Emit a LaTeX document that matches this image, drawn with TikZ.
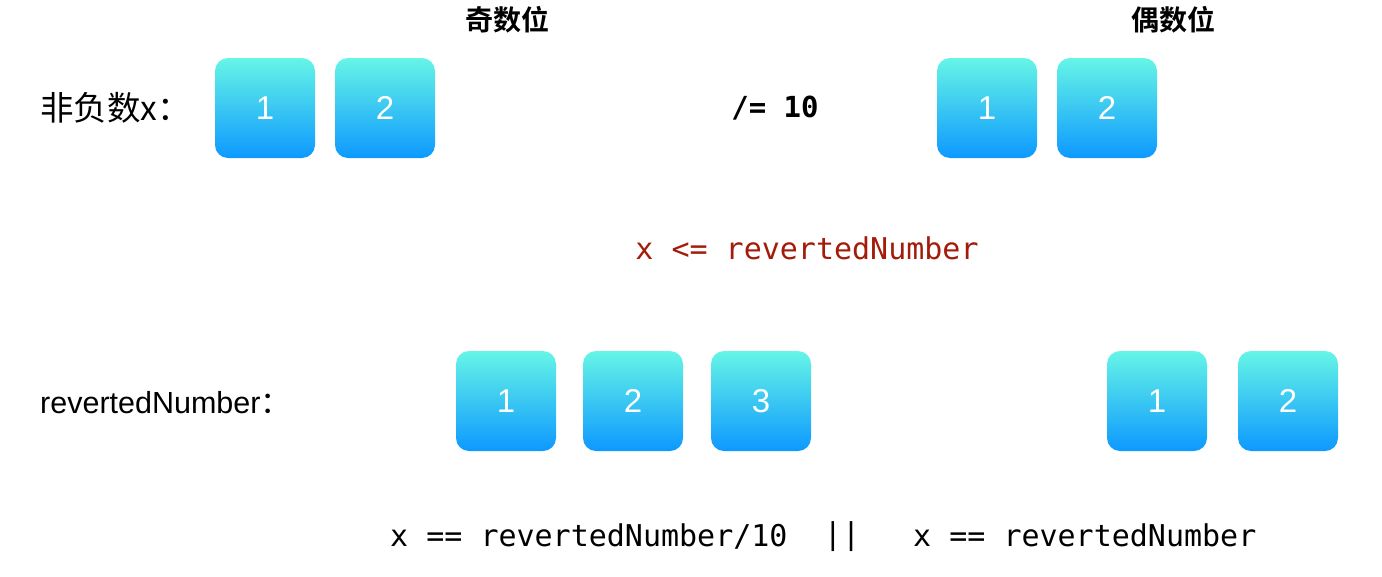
\documentclass[tikz,border=0pt]{standalone}
\usepackage{fontspec}
\setmainfont{Liberation Sans}
\newfontfamily\cjk{Noto Sans CJK SC}
\newfontfamily\cjkb{Noto Sans CJK SC Bold}
\newfontfamily\mono{DejaVu Sans Mono}
\definecolor{boxtop}{RGB}{102,245,230}
\definecolor{boxbot}{RGB}{13,153,255}
\definecolor{codered}{RGB}{163,28,10}
\tikzset{
  digitbox/.style={rounded corners=13pt, top color=boxtop, bottom color=boxbot,
    minimum width=100pt, minimum height=100pt, inner sep=0pt, text=white,
    font=\fontsize{33}{36}\selectfont},
  headtxt/.style={font=\cjkb\fontsize{28}{32}\selectfont, inner sep=0pt},
  labeltxt/.style={anchor=mid west, inner sep=0pt},
  codetxt/.style={font=\mono\fontsize{30}{34}\selectfont, inner sep=0pt}
}
\begin{document}
\begin{tikzpicture}[x=1pt,y=-1pt]
\useasboundingbox (0,0) rectangle (1382,576);
% headings
\node[headtxt] (odd) at (507,20) {奇数位};
\node[headtxt] (even) at (1173,20) {偶数位};
% row 1
\node[labeltxt, font=\cjk\fontsize{33.5}{36}\selectfont] (xlab) at (40,118) {非负数x：};
\node[digitbox] (a1) at (265,108) {1};
\node[digitbox] (a2) at (385,108) {2};
\node[codetxt, font=\mono\bfseries\fontsize{29}{34}\selectfont] (div) at (775,108) {/= 10};
\node[digitbox] (b1) at (987,108) {1};
\node[digitbox] (b2) at (1107,108) {2};
% condition
\node[codetxt, text=codered] (cond) at (807,248) {x <= revertedNumber};
% row 2
\node[labeltxt, font=\fontsize{30.5}{34}\selectfont] (rlab) at (40,411) {revertedNumber\cjk ：};
\node[digitbox] (c1) at (506,401) {1};
\node[digitbox] (c2) at (633,401) {2};
\node[digitbox] (c3) at (761,401) {3};
\node[digitbox] (d1) at (1157,401) {1};
\node[digitbox] (d2) at (1288,401) {2};
% bottom expression
\node[codetxt, anchor=mid west] (e1) at (390,544) {x == revertedNumber/10};
\node[codetxt] (e2) at (842,537) {||};
\node[codetxt, anchor=mid west] (e3) at (913,544) {x == revertedNumber};
\end{tikzpicture}
\end{document}
